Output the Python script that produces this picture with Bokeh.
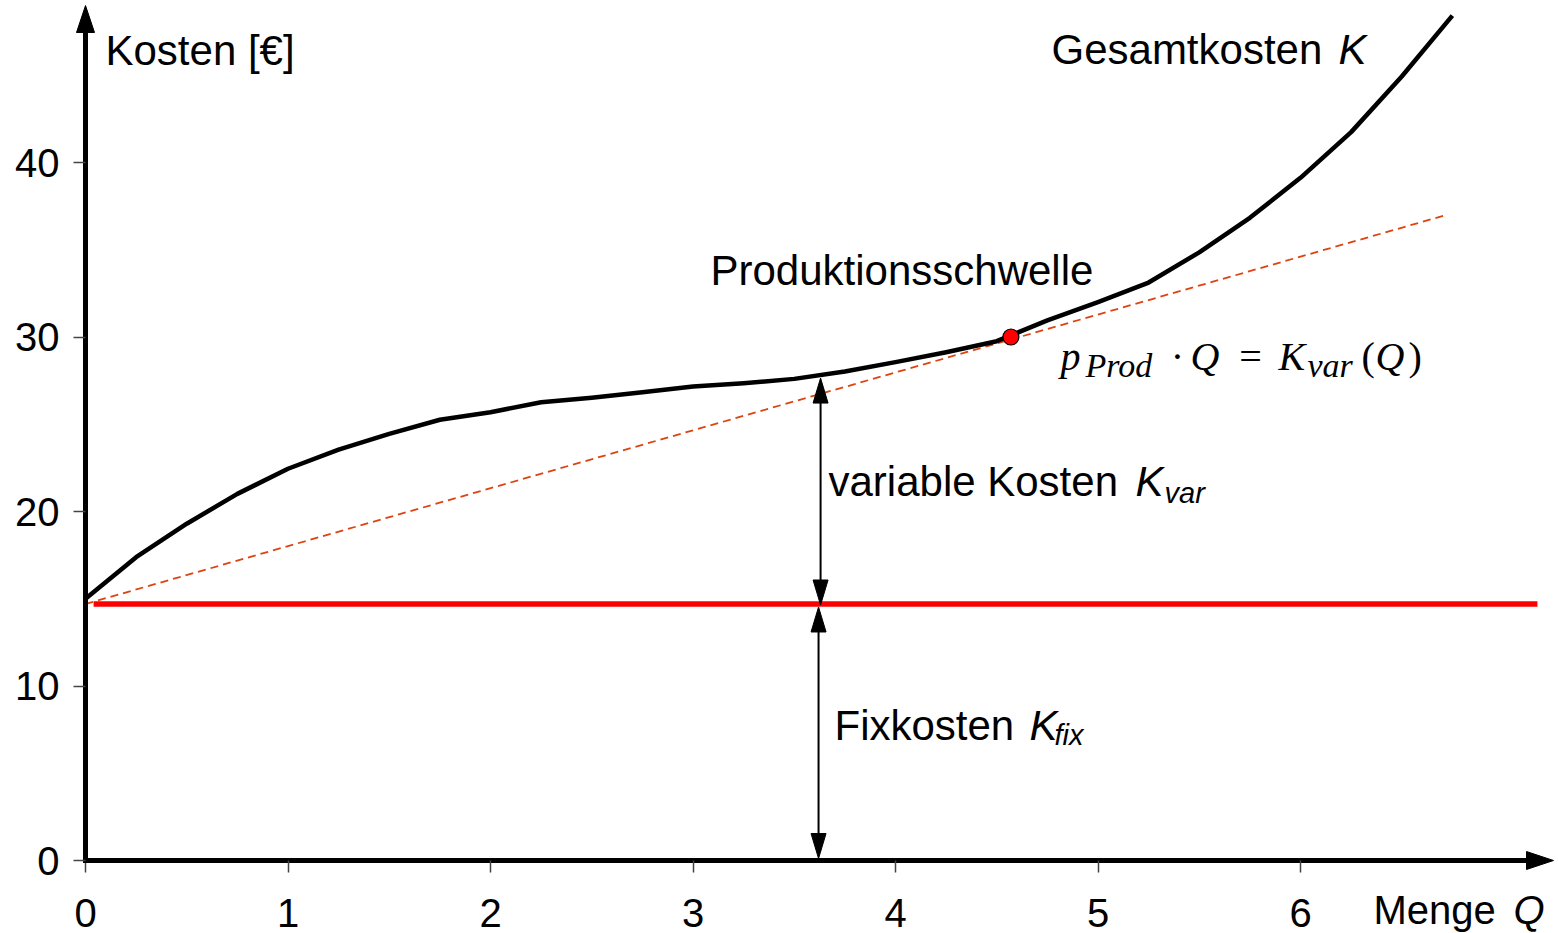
import numpy as np
from bokeh.plotting import figure
from bokeh.models import Range1d, LinearAxis, FixedTicker
from bokeh.embed import file_html
from bokeh.resources import INLINE
from bokeh.core.properties import value

# ---------------- data ----------------
menge = [0.0, 0.25, 0.5, 0.75, 1.0, 1.25, 1.5, 1.75, 2.0, 2.25, 2.5, 2.75, 3.0,
         3.25, 3.5, 3.75, 4.0, 4.25, 4.5, 4.75, 5.0, 5.25, 5.5, 5.75, 6.0,
         6.25, 6.5, 6.75]
gesamtkosten = [15.0, 17.38, 19.30, 21.01, 22.45, 23.54, 24.45, 25.26, 25.69,
                26.26, 26.52, 26.84, 27.16, 27.35, 27.60, 28.02, 28.56, 29.13,
                29.76, 30.95, 32.0, 33.12, 34.85, 36.83, 39.12, 41.74, 44.93,
                48.42]
fixkosten = 14.7
fix_span = [0.04, 7.17]
tangente_q = [0.0, 6.71]
tangente_k = [14.7, 36.96]
schwelle_q = [4.57]
schwelle_k = [30.0]
pfeil_q = [3.63, 3.62]
x_ticks = [0, 1, 2, 3, 4, 5, 6]
y_ticks = [0, 10, 20, 30, 40]

# ---------------- geometry (canvas pixels -> data) ----------------
PX_X = 202.5   # pixels per unit Q
PX_Y = 17.45   # pixels per unit K
X0, Y0 = 85.0, 860.0   # canvas position of the origin
W, H = 1558, 933


def qx(px):
    return (px - X0) / PX_X


def ky(py):
    return (Y0 - py) / PX_Y


p = figure(width=W, height=H,
           x_range=Range1d(qx(0), qx(W)), y_range=Range1d(ky(H), ky(0)),
           x_axis_type=None, y_axis_type=None, output_backend="svg",
           toolbar_location=None, min_border=0)
p.outline_line_color = None
p.background_fill_color = "white"
p.border_fill_color = "white"

TICK_FONT = "Liberation Sans"

xaxis = LinearAxis(fixed_location=0, bounds=(0, qx(1532)),
                   ticker=FixedTicker(ticks=x_ticks))
yaxis = LinearAxis(fixed_location=0, bounds=(0, ky(28)),
                   ticker=FixedTicker(ticks=y_ticks))
for ax in (xaxis, yaxis):
    ax.axis_line_width = 5
    ax.axis_line_color = "black"
    ax.axis_line_cap = "square"
    ax.major_tick_out = 12
    ax.major_tick_in = 0
    ax.major_tick_line_color = "#444444"
    ax.major_tick_line_width = 1.5
    ax.minor_tick_out = 0
    ax.minor_tick_in = 0
    ax.major_label_text_font = TICK_FONT
    ax.major_label_text_font_size = "40px"
    ax.major_label_text_color = "black"
xaxis.major_label_standoff = 26
yaxis.major_label_standoff = 14
p.add_layout(xaxis, "below")
p.add_layout(yaxis, "left")

# axis arrow heads
hx = qx(1553)
p.patch([hx - 27 / PX_X, hx, hx - 27 / PX_X], [-9 / PX_Y, 0, 9 / PX_Y],
        color="black", line_width=1)
hy = ky(5)
p.patch([-9 / PX_X, 0, 9 / PX_X], [hy - 27 / PX_Y, hy, hy - 27 / PX_Y],
        color="black", line_width=1)

# fixed costs (red)
p.line(fix_span, [fixkosten, fixkosten], line_color="#FF0000", line_width=5.5)

# tangent (dashed)
p.line(tangente_q, tangente_k, line_color="#DD4411", line_width=1.8,
       line_dash="8 5")

# total cost curve
p.line(menge, gesamtkosten, line_color="black", line_width=4.5,
       line_join="round")

# Produktionsschwelle point
p.scatter(schwelle_q, schwelle_k, size=16, fill_color="#FF0000",
          line_color="black", line_width=1.2)

# double arrows (variable / fixed costs)
k_top = float(np.interp(pfeil_q[0], menge, gesamtkosten)) - 3 / PX_Y
spans = [(pfeil_q[0], fixkosten - 1 / PX_Y, k_top),
         (pfeil_q[1], 2 / PX_Y, fixkosten - 3 / PX_Y)]
hl, hw = 25 / PX_Y, 7.5 / PX_X
xs, ys = [], []
for q, lo, hi in spans:
    p.segment(x0=[q], y0=[lo + hl * 0.5], x1=[q], y1=[hi - hl * 0.5],
              line_color="black", line_width=2)
    xs.append([q - hw, q, q + hw]); ys.append([hi - hl, hi, hi - hl])
    xs.append([q - hw, q, q + hw]); ys.append([lo + hl, lo, lo + hl])
p.patches(xs, ys, color="black", line_width=1)

# ---------------- texts ----------------
SANS = value("Liberation Sans")
SERIF = value("Liberation Serif")
DY = 14  # baseline correction


def txt(px, py, s, size, italic=False, font=SANS, align="left"):
    p.text(x=[qx(px)], y=[ky(py - DY)], text=[s], text_font=font,
           text_font_size=value(f"{size}px"),
           text_font_style="italic" if italic else "normal",
           text_align=align, text_baseline="alphabetic", text_color="black")


txt(105, 64, "Kosten [€]", 42)
txt(1051, 63, "Gesamtkosten", 42)
txt(1338, 63, "K", 42, italic=True)
txt(710, 284, "Produktionsschwelle", 42)
txt(828, 495, "variable Kosten", 42)
txt(1135, 495, "K", 42, italic=True)
txt(1164, 506, "var", 29, italic=True)
txt(834, 739, "Fixkosten", 42)
txt(1029, 739, "K", 42, italic=True)
txt(1054, 748, "fix", 29, italic=True)
txt(1373, 923, "Menge", 40)
txt(1513, 923, "Q", 40, italic=True)

# formula p_Prod · Q = K_var(Q)
txt(1060, 370, "p", 40, italic=True, font=SERIF)
txt(1085, 379, "Prod", 34, italic=True, font=SERIF)
txt(1177, 370, "·", 40, font=SERIF, align="center")
txt(1190, 370, "Q", 40, italic=True, font=SERIF)
txt(1250, 370, "=", 40, font=SERIF, align="center")
txt(1278, 370, "K", 40, italic=True, font=SERIF)
txt(1307, 379, "var", 34, italic=True, font=SERIF)
txt(1361, 370, "(", 40, font=SERIF)
txt(1375, 370, "Q", 40, italic=True, font=SERIF)
txt(1408, 370, ")", 40, font=SERIF)

open("out.html", "w").write(file_html(p, INLINE))
